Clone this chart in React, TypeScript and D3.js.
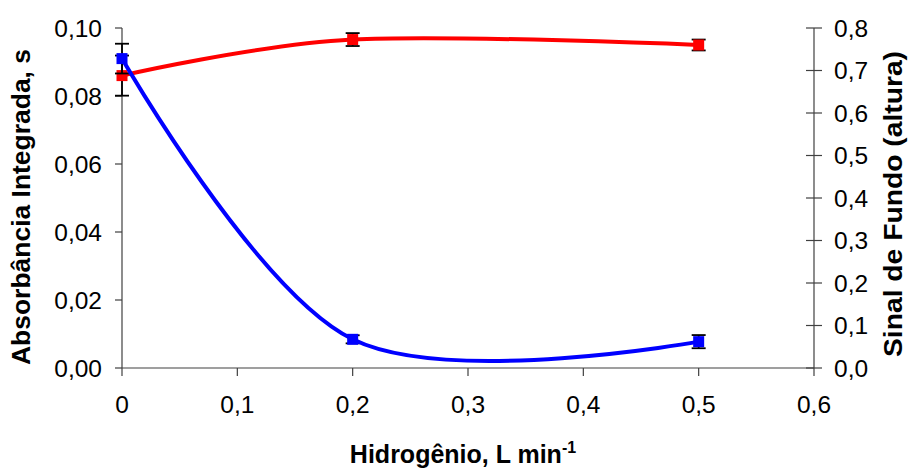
import React from "react";
import * as d3 from "d3";

const W = 909;
const H = 468;

const hydrogen = [0, 0.2, 0.5];
const absorbance = [0.086, 0.0966, 0.095];
const absorbanceErr = [0.0059, 0.0019, 0.0016];
const background = [0.728, 0.0675, 0.062];
const backgroundErr = [0.035, 0.0095, 0.0155];

const xTicks = [0, 0.1, 0.2, 0.3, 0.4, 0.5, 0.6];
const leftTicks = [0, 0.02, 0.04, 0.06, 0.08, 0.1];
const rightTicks = [0, 0.1, 0.2, 0.3, 0.4, 0.5, 0.6, 0.7, 0.8];

const FONT = "'Liberation Sans', Arial, Helvetica, sans-serif";

export default function App() {
  const x = d3.scaleLinear().domain([0, 0.6]).range([122, 814]);
  const yL = d3.scaleLinear().domain([0, 0.1]).range([368, 28]);
  const yR = d3.scaleLinear().domain([0, 0.8]).range([368, 28]);

  const fmt2 = (v: number) => v.toFixed(2).replace(".", ",");
  const fmt1 = (v: number) => (v === 0 ? "0" : v.toFixed(1).replace(".", ","));
  const fmtR = (v: number) => v.toFixed(1).replace(".", ",");

  const curve = d3.curveCardinal.tension(0);
  const redPts = hydrogen.map((h, i) => [x(h), yL(absorbance[i])] as [number, number]);
  const bluePts = hydrogen.map((h, i) => [x(h), yR(background[i])] as [number, number]);
  const line = d3.line<[number, number]>().curve(curve);

  const axisColor = "#404040";
  const ms = 11;

  const errBars = (vals: number[], errs: number[], y: d3.ScaleLinear<number, number>) =>
    hydrogen.map((h, i) => {
      const cx = x(h);
      const t = y(vals[i] + errs[i]);
      const b = y(vals[i] - errs[i]);
      return (
        <g key={i} stroke="#000" strokeWidth={1.8}>
          <line x1={cx} x2={cx} y1={t} y2={b} />
          <line x1={cx - 7} x2={cx + 7} y1={t} y2={t} />
          <line x1={cx - 7} x2={cx + 7} y1={b} y2={b} />
        </g>
      );
    });

  return (
    <svg width={W} height={H} style={{ position: "absolute", left: 0, top: 0, background: "#fff" }} fontFamily={FONT}>
      <rect width={W} height={H} fill="#fff" />
      {/* axes */}
      <g stroke={axisColor} strokeWidth={1.2} fill="none">
        <line x1={x(0)} x2={x(0)} y1={yL(0.1)} y2={yL(0)} />
        <line x1={x(0)} x2={x(0.6)} y1={yL(0)} y2={yL(0)} />
        <line x1={x(0.6)} x2={x(0.6)} y1={yR(0.8)} y2={yR(0)} />
        {leftTicks.map((t) => (
          <line key={"l" + t} x1={x(0) - 7} x2={x(0)} y1={yL(t)} y2={yL(t)} />
        ))}
        {xTicks.map((t) => (
          <line key={"x" + t} x1={x(t)} x2={x(t)} y1={yL(0)} y2={yL(0) + 8} />
        ))}
        {rightTicks.map((t) => (
          <line key={"r" + t} x1={x(0.6) - 8} x2={x(0.6) + 8} y1={yR(t)} y2={yR(t)} />
        ))}
      </g>
      <g fontSize={24.5} fill="#000">
        {leftTicks.map((t) => (
          <text key={"lt" + t} x={102} y={yL(t)} dy="0.36em" textAnchor="end">
            {fmt2(t)}
          </text>
        ))}
        {xTicks.map((t) => (
          <text key={"xt" + t} x={x(t)} y={413} textAnchor="middle">
            {fmt1(t)}
          </text>
        ))}
        {rightTicks.map((t) => (
          <text key={"rt" + t} x={834} y={yR(t)} dy="0.36em" textAnchor="start">
            {fmtR(t)}
          </text>
        ))}
      </g>
      {/* titles */}
      <g fontSize={25} fontWeight="bold" fill="#000">
        <text
          transform="translate(30,207) rotate(-90)"
          textAnchor="middle"
          textLength={316}
          lengthAdjust="spacingAndGlyphs"
        >
          Absorbância Integrada, s
        </text>
        <text
          transform="translate(902,204) rotate(-90)"
          textAnchor="middle"
          textLength={306}
          lengthAdjust="spacingAndGlyphs"
        >
          Sinal de Fundo (altura)
        </text>
        <text x={463} y={463} textAnchor="middle">
          Hidrogênio, L min<tspan fontSize={16} dy={-10}>-1</tspan>
        </text>
      </g>
      {/* red series */}
      {errBars(absorbance, absorbanceErr, yL)}
      <path d={line(redPts) || ""} fill="none" stroke="#ff0000" strokeWidth={4} />
      {redPts.map((p, i) => (
        <rect key={"rm" + i} x={p[0] - ms / 2} y={p[1] - ms / 2} width={ms} height={ms} fill="#ff0000" />
      ))}
      {/* blue series */}
      {errBars(background, backgroundErr, yR)}
      <path d={line(bluePts) || ""} fill="none" stroke="#0000ff" strokeWidth={4} />
      {bluePts.map((p, i) => (
        <rect key={"bm" + i} x={p[0] - ms / 2} y={p[1] - ms / 2} width={ms} height={ms} fill="#0000ff" />
      ))}
    </svg>
  );
}
